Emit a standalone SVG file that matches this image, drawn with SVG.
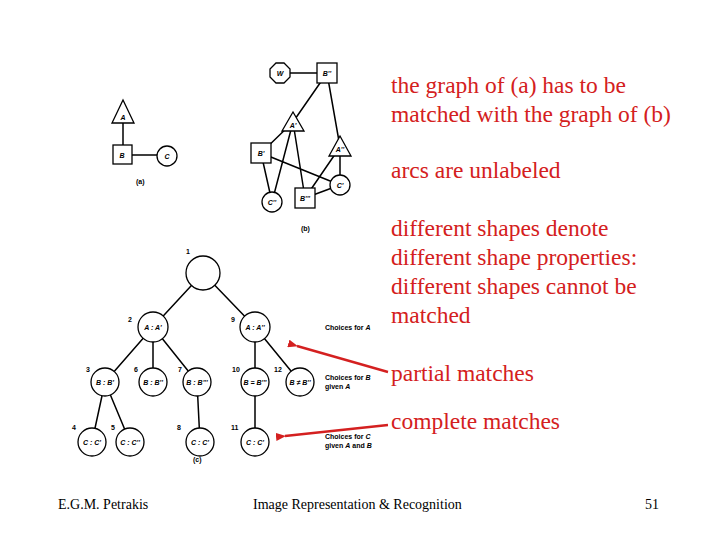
<svg xmlns="http://www.w3.org/2000/svg" width="720" height="540" viewBox="0 0 720 540">
<style>
.s{fill:#fff;stroke:#000;stroke-width:1.3}
.e{stroke:#000;stroke-width:1.5;fill:none}
.n{font-family:"Liberation Sans",Arial,sans-serif;font-size:7px;font-weight:bold;font-style:italic;text-anchor:middle}
.k{font-family:"Liberation Sans",Arial,sans-serif;font-size:7px;font-weight:bold}
.r{font-family:"Liberation Serif","Times New Roman",serif;font-size:23.5px;fill:#d42020}
.f{font-family:"Liberation Serif","Times New Roman",serif;font-size:14px}
</style>
<defs><marker id="ah" markerWidth="10" markerHeight="8" refX="1" refY="4" orient="auto-start-reverse" markerUnits="userSpaceOnUse"><path d="M10,0 L0,4 L10,8 z" fill="#d42020"/></marker></defs>
<rect width="720" height="540" fill="#fff"/>
<g id="edges">
<path class="e" d="M123,115 V155 M122,155 H167"/>
<path class="e" d="M280,73 H327 M327,73 L293,122 M327,73 L340,147 M293,122 L261,153 M293,122 L272,202 M293,122 L305,198 M261,153 L272,202 M261,153 L340,185 M340,147 L305,198 M340,147 L340,185 M340,185 L305,198"/>
<path class="e" d="M203,273 L153,327 M203,273 L255,327 M153,327 L105,382 M153,327 L153,382 M153,327 L197,382 M255,327 L255,382 M255,327 L300,382 M105,382 L92,442 M105,382 L130,442 M197,382 L200,442 M255,382 L255,442"/>
<path d="M388,372 L297,346" stroke="#d42020" stroke-width="2.5" marker-end="url(#ah)"/>
<path d="M388,425 L285,436" stroke="#d42020" stroke-width="2.5" marker-end="url(#ah)"/>
</g>
<g id="a-A"><polygon class="s" points="123,100 112,123 134,123"/><text class="n" x="123" y="120">A</text></g>
<g id="a-B"><rect class="s" x="113" y="145" width="19" height="19"/><text class="n" x="122" y="158">B</text></g>
<g id="a-C"><circle class="s" cx="167" cy="156" r="10"/><text class="n" x="167" y="159">C</text></g>
<text class="k" x="136" y="184">(a)</text>
<g id="b-W"><polygon class="s" points="276,63 284,63 290,69 290,77 284,83 276,83 270,77 270,69"/><text class="n" x="280" y="76">W</text></g>
<g id="b-B2"><rect class="s" x="317" y="63" width="20" height="20"/><text class="n" x="327" y="76">B''</text></g>
<g id="b-A1"><polygon class="s" points="293,112 282,131 304,131"/><text class="n" x="293" y="128">A'</text></g>
<g id="b-B1"><rect class="s" x="251" y="143" width="20" height="20"/><text class="n" x="261" y="156">B'</text></g>
<g id="b-A2"><polygon class="s" points="340,136 329,156 351,156"/><text class="n" x="340" y="152">A''</text></g>
<g id="b-C1"><circle class="s" cx="340" cy="185" r="10"/><text class="n" x="340" y="188">C'</text></g>
<g id="b-C2"><circle class="s" cx="272" cy="202" r="10"/><text class="n" x="272" y="205">C''</text></g>
<g id="b-B3"><rect class="s" x="295" y="188" width="20" height="20"/><text class="n" x="305" y="201">B'''</text></g>
<text class="k" x="301" y="231">(b)</text>
<g id="t1"><circle class="s" cx="203" cy="273" r="17"/><text class="k" x="186" y="254">1</text></g>
<g id="t2"><circle class="s" cx="153" cy="327" r="15"/><text class="n" x="153" y="330">A : A'</text><text class="k" x="128" y="322">2</text></g>
<g id="t9"><circle class="s" cx="255" cy="327" r="15"/><text class="n" x="255" y="330">A : A''</text><text class="k" x="231" y="322">9</text></g>
<g id="t3"><circle class="s" cx="105" cy="382" r="14"/><text class="n" x="105" y="385">B : B'</text><text class="k" x="86" y="372">3</text></g>
<g id="t6"><circle class="s" cx="153" cy="382" r="14"/><text class="n" x="153" y="385">B : B''</text><text class="k" x="134" y="372">6</text></g>
<g id="t7"><circle class="s" cx="197" cy="382" r="14"/><text class="n" x="197" y="385">B : B'''</text><text class="k" x="178" y="372">7</text></g>
<g id="t10"><circle class="s" cx="255" cy="382" r="14"/><text class="n" x="255" y="385">B = B'''</text><text class="k" x="232" y="372">10</text></g>
<g id="t12"><circle class="s" cx="300" cy="382" r="14"/><text class="n" x="300" y="385">B ≠ B''</text><text class="k" x="274" y="372">12</text></g>
<g id="t4"><circle class="s" cx="92" cy="442" r="14"/><text class="n" x="92" y="445">C : C'</text><text class="k" x="72" y="430">4</text></g>
<g id="t5"><circle class="s" cx="130" cy="442" r="14"/><text class="n" x="130" y="445">C : C''</text><text class="k" x="111" y="430">5</text></g>
<g id="t8"><circle class="s" cx="200" cy="442" r="14"/><text class="n" x="200" y="445">C : C'</text><text class="k" x="177" y="430">8</text></g>
<g id="t11"><circle class="s" cx="255" cy="442" r="14"/><text class="n" x="255" y="445">C : C'</text><text class="k" x="231" y="430">11</text></g>
<text class="k" x="193" y="462">(c)</text>
<text class="k" x="325" y="330">Choices for <tspan font-style="italic">A</tspan></text>
<text class="k" x="325" y="380">Choices for <tspan font-style="italic">B</tspan></text>
<text class="k" x="325" y="389">given <tspan font-style="italic">A</tspan></text>
<text class="k" x="325" y="439">Choices for <tspan font-style="italic">C</tspan></text>
<text class="k" x="325" y="448">given <tspan font-style="italic">A</tspan> and <tspan font-style="italic">B</tspan></text>
<text class="r" x="391" y="93">the graph of (a) has to be</text>
<text class="r" x="391" y="122">matched with the graph of (b)</text>
<text class="r" x="391" y="178">arcs are unlabeled</text>
<text class="r" x="391" y="236">different shapes denote</text>
<text class="r" x="391" y="265">different shape properties:</text>
<text class="r" x="391" y="294">different shapes cannot be</text>
<text class="r" x="391" y="323">matched</text>
<text class="r" x="391" y="381">partial matches</text>
<text class="r" x="391" y="429">complete matches</text>
<text class="f" x="58" y="509">E.G.M. Petrakis</text>
<text class="f" x="253" y="509">Image Representation &amp; Recognition</text>
<text class="f" x="645" y="509">51</text>
</svg>
